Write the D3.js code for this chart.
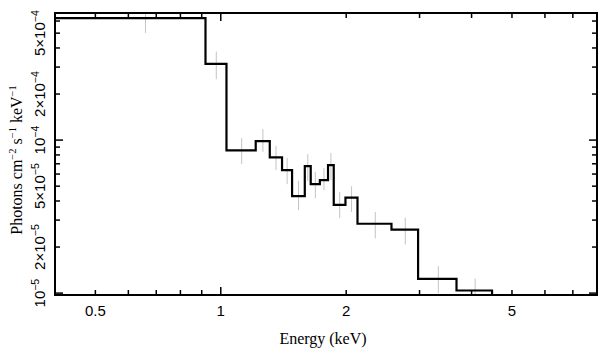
<!DOCTYPE html>
<html>
<head>
<meta charset="utf-8">
<script src="https://cdn.jsdelivr.net/npm/d3@7"></script>
<style>
  html, body { margin: 0; padding: 0; background: #fff; }
  svg { display: block; }
</style>
</head>
<body>
<svg id="chart" width="608" height="358"></svg>
<script>
// Bin edges (keV) and values (photons cm^-2 s^-1 keV^-1)
const binLo  = [0.40, 0.919, 1.032, 1.213, 1.311, 1.403, 1.483, 1.591, 1.644, 1.729, 1.809, 1.867, 1.992, 2.129, 2.569, 2.976, 3.680];
const binHi  = [0.919, 1.032, 1.213, 1.311, 1.403, 1.483, 1.591, 1.644, 1.729, 1.809, 1.867, 1.992, 2.129, 2.569, 2.976, 3.680, 4.479];
const values = [6.27e-4, 3.15e-4, 8.56e-5, 9.85e-5, 7.70e-5, 6.36e-5, 4.30e-5, 6.75e-5, 5.15e-5, 5.47e-5, 6.86e-5, 3.77e-5, 4.21e-5, 2.84e-5, 2.60e-5, 1.24e-5, 1.04e-5];
const errHi  = [7.52e-4, 3.79e-4, 1.031e-4, 1.18e-4, 9.18e-5, 7.66e-5, 5.41e-5, 8.10e-5, 6.20e-5, 6.55e-5, 8.22e-5, 4.58e-5, 4.99e-5, 3.39e-5, 3.11e-5, 1.50e-5, 1.246e-5];
const errLo  = [5.02e-4, 2.50e-4, 6.96e-5, 8.38e-5, 6.36e-5, 5.15e-5, 3.48e-5, 5.40e-5, 4.17e-5, 4.70e-5, 5.47e-5, 3.08e-5, 3.39e-5, 2.28e-5, 2.08e-5, 1.00e-5, 0.84e-5];

const xTickLabels = [0.5, 1, 2, 5];
const xMinor = [0.6, 0.7, 0.8, 0.9, 3, 4, 6, 7, 8];
const xMajor = [1];
const yTickLabels = [
  {v: 1e-5, m: "", e: "−5"},
  {v: 2e-5, m: "2×", e: "−5"},
  {v: 5e-5, m: "5×", e: "−5"},
  {v: 1e-4, m: "", e: "−4"},
  {v: 2e-4, m: "2×", e: "−4"},
  {v: 5e-4, m: "5×", e: "−4"}
];
const yMajor = [1e-5, 1e-4];
const yMinor = [2e-5, 3e-5, 4e-5, 5e-5, 6e-5, 7e-5, 8e-5, 9e-5, 2e-4, 3e-4, 4e-4, 5e-4, 6e-4];

const L = 55, R = 597, T = 13, B = 295;
const svg = d3.select("#chart");

const x = d3.scaleLog().domain([0.4, 8]).range([L, R]);
const y = d3.scaleLog().domain([9.72e-6, 6.77e-4]).range([B, T]);

const clipId = "plotclip";
svg.append("clipPath").attr("id", clipId)
  .append("rect").attr("x", L).attr("y", T).attr("width", R - L).attr("height", B - T);

const plot = svg.append("g").attr("clip-path", `url(#${clipId})`);

// error bars
const idx = d3.range(values.length);
plot.selectAll("line.err").data(idx).enter().append("line")
  .attr("class", "err")
  .attr("x1", i => x((binLo[i] + binHi[i]) / 2))
  .attr("x2", i => x((binLo[i] + binHi[i]) / 2))
  .attr("y1", i => y(errHi[i]))
  .attr("y2", i => y(errLo[i]))
  .attr("stroke", "#c4c4c4")
  .attr("stroke-width", 1);

// step line
const pts = [];
idx.forEach(i => {
  pts.push([binLo[i], values[i]]);
  pts.push([binHi[i], values[i]]);
});
pts.push([binHi[values.length - 1], y.domain()[0]]);
const line = d3.line().x(d => x(d[0])).y(d => y(d[1]));
plot.append("path").attr("d", line(pts))
  .attr("fill", "none").attr("stroke", "#000").attr("stroke-width", 2.2)
  .attr("stroke-linejoin", "miter");

// ticks
const tk = svg.append("g").attr("stroke", "#000").attr("stroke-width", 1.5);
function xt(v, len) {
  tk.append("line").attr("x1", x(v)).attr("x2", x(v)).attr("y1", B).attr("y2", B - len);
  tk.append("line").attr("x1", x(v)).attr("x2", x(v)).attr("y1", T).attr("y2", T + len);
}
function yt(v, len) {
  tk.append("line").attr("y1", y(v)).attr("y2", y(v)).attr("x1", L).attr("x2", L + len);
  tk.append("line").attr("y1", y(v)).attr("y2", y(v)).attr("x1", R).attr("x2", R - len);
}
xTickLabels.concat(xMinor).forEach(v => { if (!xMajor.includes(v)) xt(v, 5); });
xMajor.forEach(v => xt(v, 8));
yMinor.forEach(v => yt(v, 5));
yMajor.forEach(v => yt(v, 8));

// frame
svg.append("rect").attr("x", L).attr("y", T).attr("width", R - L).attr("height", B - T)
  .attr("fill", "none").attr("stroke", "#000").attr("stroke-width", 2);

// x tick labels
svg.selectAll("text.xl").data(xTickLabels).enter().append("text")
  .attr("class", "xl")
  .attr("x", d => x(d)).attr("y", 316)
  .attr("text-anchor", "middle")
  .attr("font-family", "Liberation Sans, Arial, sans-serif")
  .attr("font-size", 15)
  .text(d => String(d));

// y tick labels (rotated)
yTickLabels.forEach(d => {
  const t = svg.append("text")
    .attr("transform", `translate(45,${y(d.v)}) rotate(-90)`)
    .attr("text-anchor", "middle")
    .attr("font-family", "Liberation Sans, Arial, sans-serif")
    .attr("font-size", 15);
  t.append("tspan").text(d.m + "10");
  t.append("tspan").attr("font-size", 10.5).attr("dy", -6).text(d.e);
});

// axis titles
svg.append("text")
  .attr("x", 323).attr("y", 344)
  .attr("text-anchor", "middle")
  .attr("font-family", "Liberation Serif, Times New Roman, serif")
  .attr("font-size", 16)
  .text("Energy (keV)");

const yt2 = svg.append("text")
  .attr("transform", `translate(22,160) rotate(-90)`)
  .attr("text-anchor", "middle")
  .attr("font-family", "Liberation Serif, Times New Roman, serif")
  .attr("font-size", 16);
yt2.append("tspan").text("Photons cm");
yt2.append("tspan").attr("font-size", 10.5).attr("dy", -6).text("−2");
yt2.append("tspan").attr("dy", 6).text(" s");
yt2.append("tspan").attr("font-size", 10.5).attr("dy", -6).text("−1");
yt2.append("tspan").attr("dy", 6).text(" keV");
yt2.append("tspan").attr("font-size", 10.5).attr("dy", -6).text("−1");
</script>
</body>
</html>
